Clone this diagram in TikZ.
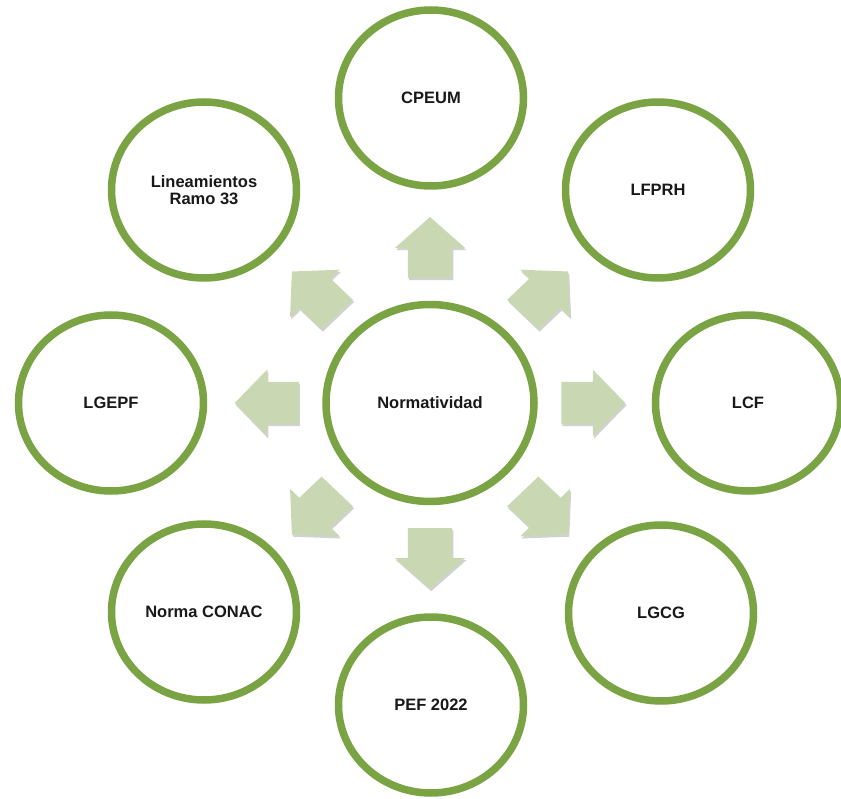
\documentclass[tikz,border=0pt]{standalone}
\usepackage{fontspec}
\setmainfont{Liberation Sans}
\usetikzlibrary{shapes.geometric,shadows}
\definecolor{ring}{RGB}{122,163,67}
\definecolor{arrowfill}{RGB}{201,216,178}
\definecolor{txt}{RGB}{25,25,25}
\begin{document}
\begin{tikzpicture}[x=1pt,y=-1pt,
  softshadow/.style={drop shadow={shadow xshift=1.2pt,shadow yshift=-2.2pt,fill=black,opacity=0.22}},
  outer/.style={ellipse, draw=ring, line width=7.5pt, fill=white,
    minimum width=185pt, minimum height=176pt, inner sep=0pt,
    font=\bfseries\fontsize{16.5}{17}\selectfont, align=center, text=txt, softshadow},
  hub/.style={outer, minimum width=208pt, minimum height=197pt},
  blockarrow/.style={fill=arrowfill, draw=none},
  arrowshadow/.style={fill=black, opacity=0.18}]
\useasboundingbox (0,0) rectangle (841,799);

\node[hub] (n) at (430,403) {Normatividad};
\node[outer] (cpeum) at (431,98) {CPEUM};
\node[outer] (lfprh) at (658,190) {LFPRH};
\node[outer] (lcf) at (748,403) {LCF};
\node[outer] (lgcg) at (661,613) {LGCG};
\node[outer] (pef) at (431,705) {PEF 2022};
\node[outer] (conac) at (204,612) {Norma CONAC};
\node[outer] (lgepf) at (111,403) {LGEPF};
\node[outer] (ramo) at (204,190) {Lineamientos\\Ramo 33};

\foreach \a in {90,45,0,-45,-90,-135,180,135} {
  \begin{scope}[shift={(n.center)}, xshift=1.2pt, yshift=-2.2pt, xscale=1.05, rotate=\a]
    \fill[arrowshadow] (125pt,-21pt) -- (155pt,-21pt) -- (155pt,-33.5pt) -- (186pt,0pt)
      -- (155pt,33.5pt) -- (155pt,21pt) -- (125pt,21pt) -- cycle;
  \end{scope}
  \begin{scope}[shift={(n.center)}, xscale=1.05, rotate=\a]
    \fill[blockarrow] (125pt,-21pt) -- (155pt,-21pt) -- (155pt,-33.5pt) -- (186pt,0pt)
      -- (155pt,33.5pt) -- (155pt,21pt) -- (125pt,21pt) -- cycle;
  \end{scope}
}
\end{tikzpicture}
\end{document}
